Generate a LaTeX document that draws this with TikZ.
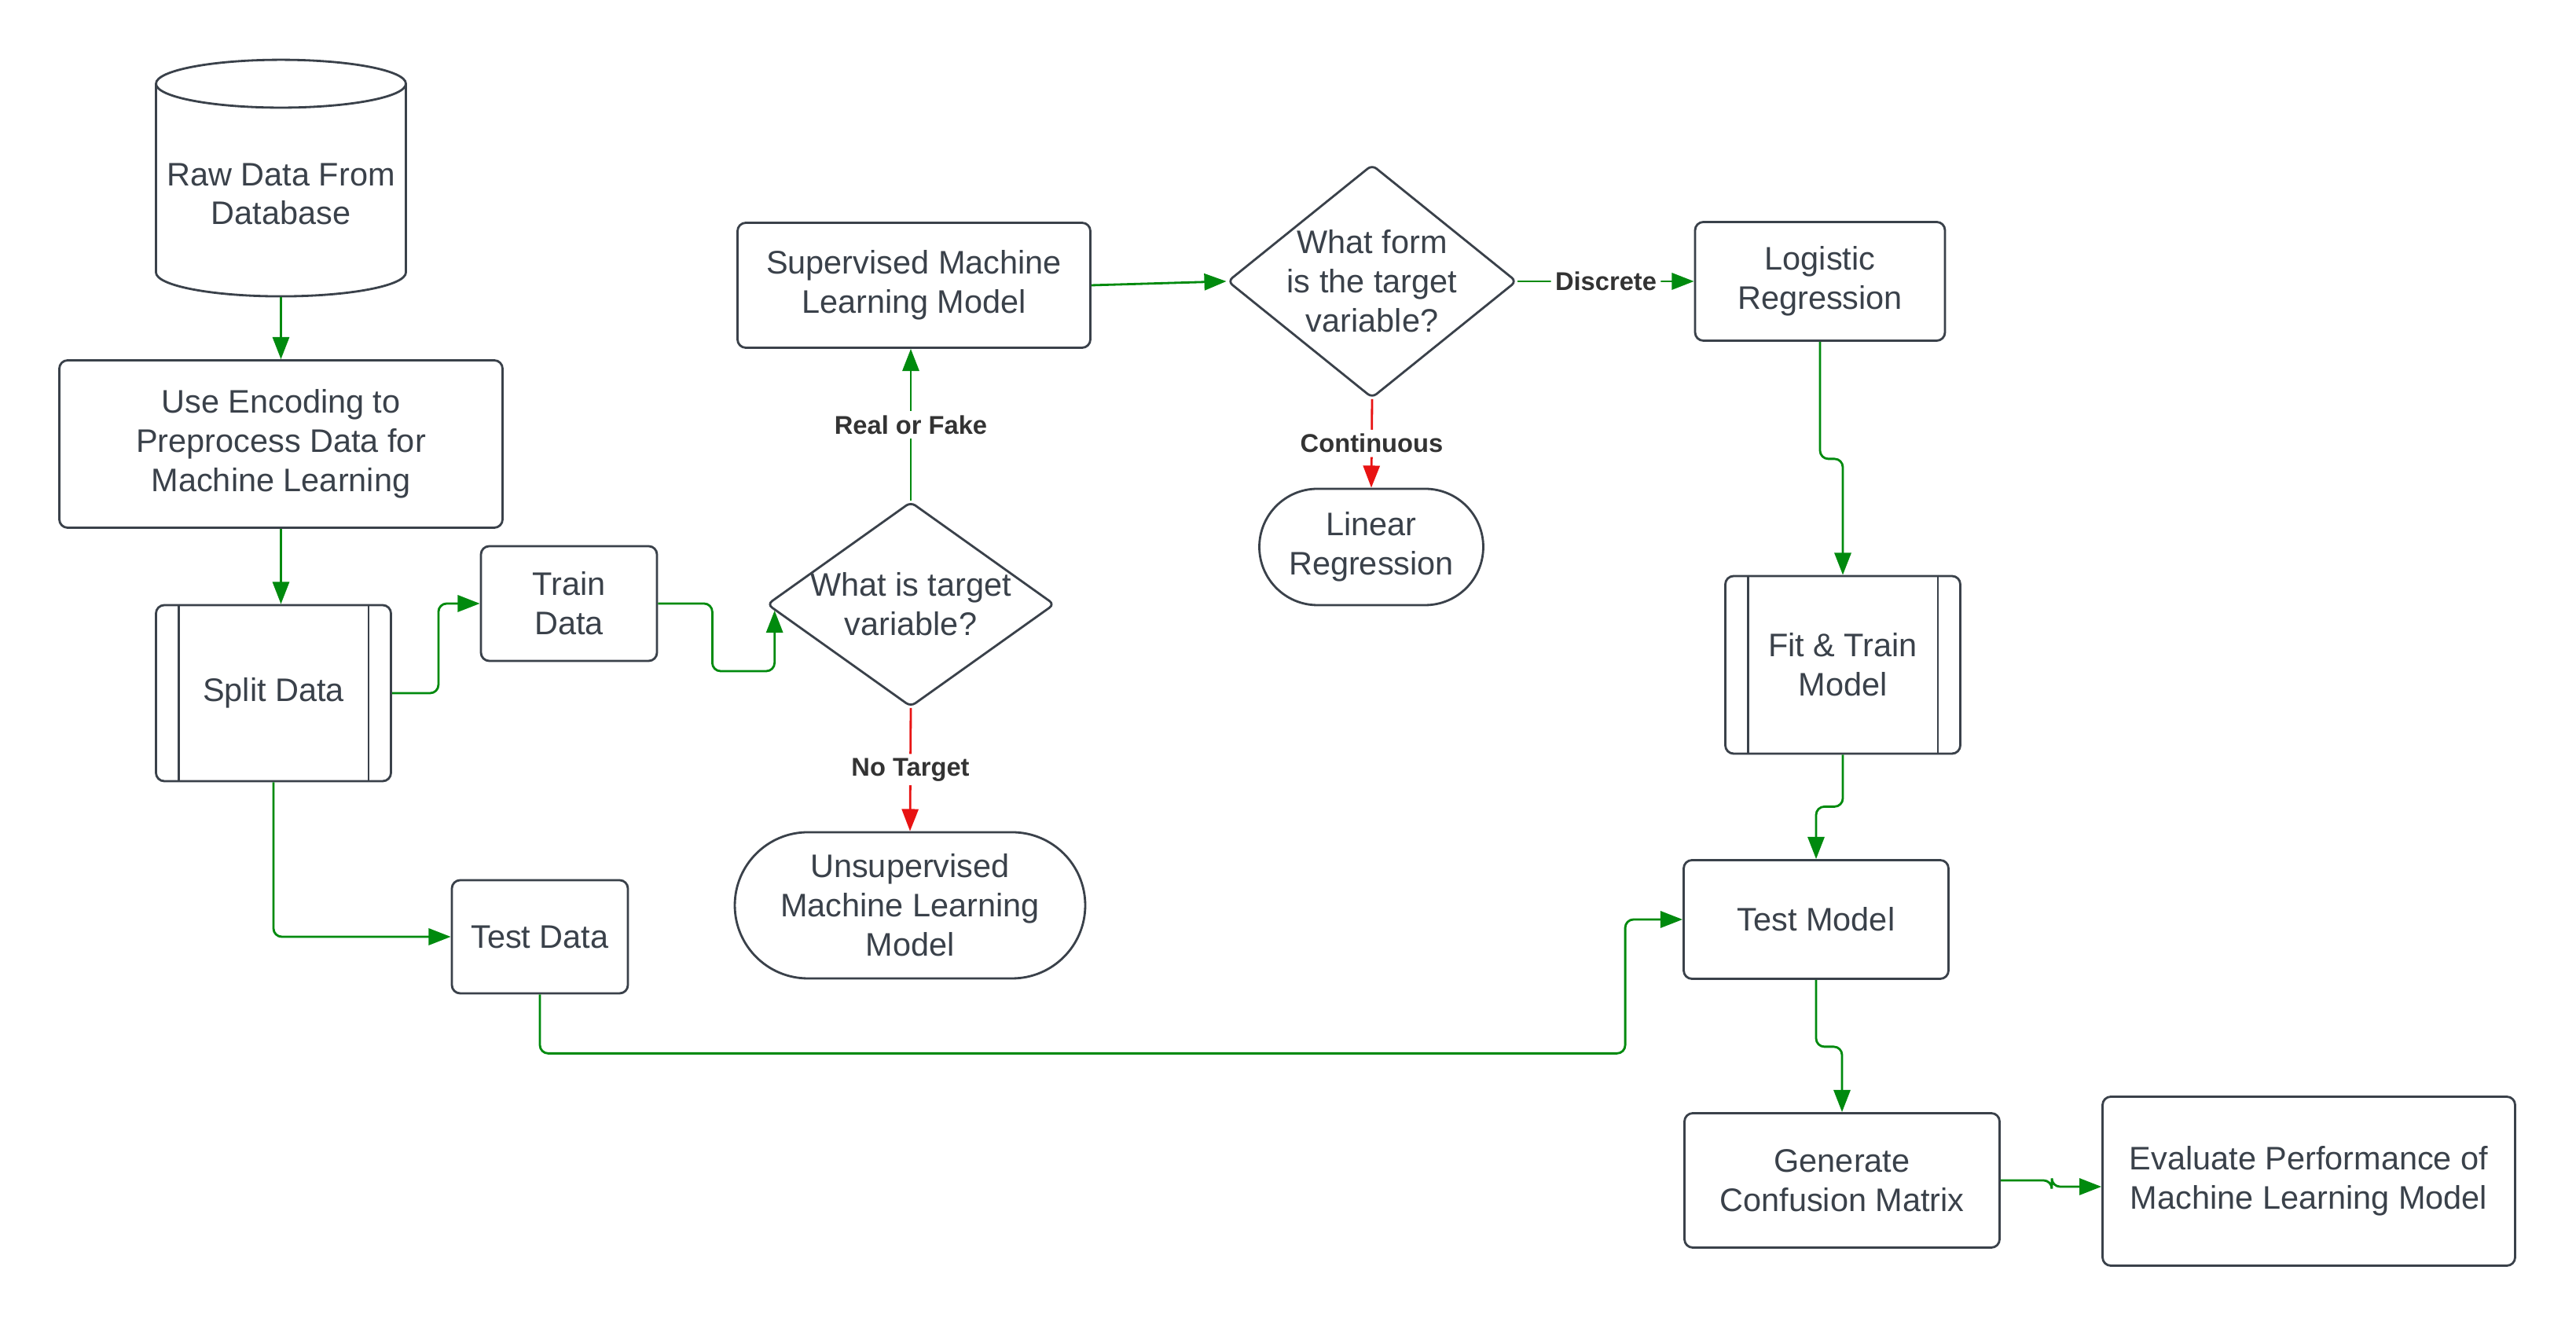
\documentclass[tikz,border=0pt]{standalone}
\usepackage{fontspec}
\setmainfont{Liberation Sans}
\usetikzlibrary{shapes.geometric, shapes.misc, arrows.meta, positioning, calc}
\definecolor{ink}{HTML}{3A414A}
\definecolor{flowgreen}{HTML}{008A0E}
\definecolor{flowred}{HTML}{E81313}
\definecolor{lbltext}{HTML}{333333}
\tikzset{
    box/.style={draw=ink, line width=0.8pt, fill=white, rounded corners=3pt, align=center, text=ink, font=\fontsize{11.8}{14.2}\selectfont, inner sep=2pt},
    procbox/.style={box},
    decision/.style={diamond, draw=ink, line width=0.8pt, fill=white, rounded corners=2pt, align=center, text=ink, font=\fontsize{11.8}{14.2}\selectfont, inner sep=-3pt},
    terminal/.style={rounded rectangle, draw=ink, line width=0.8pt, fill=white, align=center, text=ink, font=\fontsize{11.8}{14.2}\selectfont, inner sep=2pt},
    dbase/.style={cylinder, shape border rotate=90, aspect=0.2, draw=ink, line width=0.8pt, fill=white, align=center, text=ink, font=\fontsize{11.8}{14.2}\selectfont, inner sep=2pt},
    arr/.style={-{Triangle[length=8pt, width=6pt]}, line width=0.8pt, draw=flowgreen, rounded corners=3pt},
    noarr/.style={arr, draw=flowred},
    lbl/.style={fill=white, text=lbltext, font=\bfseries\fontsize{9.3}{11}\selectfont, inner sep=1.5pt}
}
\begin{document}
\begin{tikzpicture}
    \useasboundingbox (0,0) rectangle (32.78,16.86);

    % left column
    \node[dbase, minimum width=3.18cm, minimum height=3.01cm] (raw) at (3.575,14.39) {Raw Data From\\Database};
    \node[box, minimum width=5.64cm, minimum height=2.13cm] (enc) at (3.575,11.21) {Use Encoding to\\Preprocess Data for\\Machine Learning};
    \node[procbox, minimum width=2.99cm, minimum height=2.24cm] (split) at (3.48,8.04) {Split Data};
    \node[box, minimum width=2.24cm, minimum height=1.46cm] (train) at (7.24,9.18) {Train\\Data};
    \node[box, minimum width=2.24cm, minimum height=1.44cm] (testd) at (6.87,4.94) {Test Data};

    % model choice
    \node[decision, aspect=1.40, minimum width=3.66cm, minimum height=2.61cm] (what) at (11.59,9.17) {What is target\\variable?};
    \node[box, minimum width=4.49cm, minimum height=1.59cm] (sup) at (11.63,13.23) {Supervised Machine\\Learning Model};
    \node[terminal, minimum width=4.60cm, minimum height=1.86cm] (unsup) at (11.58,5.34) {Unsupervised\\Machine Learning\\Model};
    \node[decision, aspect=1.24, minimum width=3.68cm, minimum height=2.97cm] (form) at (17.46,13.28) {What form\\is the target\\variable?};
    \node[terminal, minimum width=2.99cm, minimum height=1.48cm] (linreg) at (17.45,9.90) {Linear\\Regression};

    % right column
    \node[box, minimum width=3.18cm, minimum height=1.51cm] (logreg) at (23.16,13.28) {Logistic\\Regression};
    \node[procbox, minimum width=2.99cm, minimum height=2.26cm] (fit) at (23.45,8.40) {Fit \& Train\\Model};
    \node[box, minimum width=3.37cm, minimum height=1.51cm] (testm) at (23.11,5.16) {Test Model};
    \node[box, minimum width=4.01cm, minimum height=1.71cm] (conf) at (23.44,1.84) {Generate\\Confusion Matrix};
    \node[box, minimum width=5.25cm, minimum height=2.15cm] (eval) at (29.38,1.83) {Evaluate Performance of\\Machine Learning Model};

    % inner bars of the process boxes
    \foreach \n in {split, fit} {
        \draw[draw=ink, line width=0.8pt] ([xshift=0.3cm]\n.north west) -- ([xshift=0.3cm]\n.south west);
        \draw[draw=ink, line width=0.8pt] ([xshift=-0.3cm]\n.north east) -- ([xshift=-0.3cm]\n.south east);
    }

    % connectors
    \draw[arr] (raw) -- (enc);
    \draw[arr] (enc.south) -- (enc.south |- split.north);
    \draw[arr] (split.east) -- ++(0.59,0) |- (train.west);
    \draw[arr] (split.south) |- (testd.west);
    \draw[arr] (train.east) -- ++(0.69,0) -- ++(0,-0.86) -| ($(what.west)!0.06!(what.south)$);
    \draw[arr] (what.north) -- node[lbl] {Real or Fake} (what.north |- sup.south);
    \draw[noarr] (what.south) -- node[lbl] {No Target} (unsup.north);
    \draw[arr] (sup.east) -- (form.west);
    \draw[arr] (form.east) -- node[lbl] {Discrete} (logreg.west);
    \draw[noarr] (form.south) -- node[lbl] {Continuous} (linreg.north);
    \draw[arr] (logreg.south) -- ++(0,-1.49) -| (fit.north);
    \draw[arr] (fit.south) -- ++(0,-0.66) -| (testm.north);
    \draw[arr] (testd.south) -- ++(0,-0.75) -| ([xshift=-0.73cm]testm.west) -- (testm.west);
    \draw[arr] (testm.south) -- ++(0,-0.85) -| (conf.north);
    \draw[arr] (conf.east) -- ++(0.65,0) |- ([yshift=-0.07cm]eval.west);
\end{tikzpicture}
\end{document}
